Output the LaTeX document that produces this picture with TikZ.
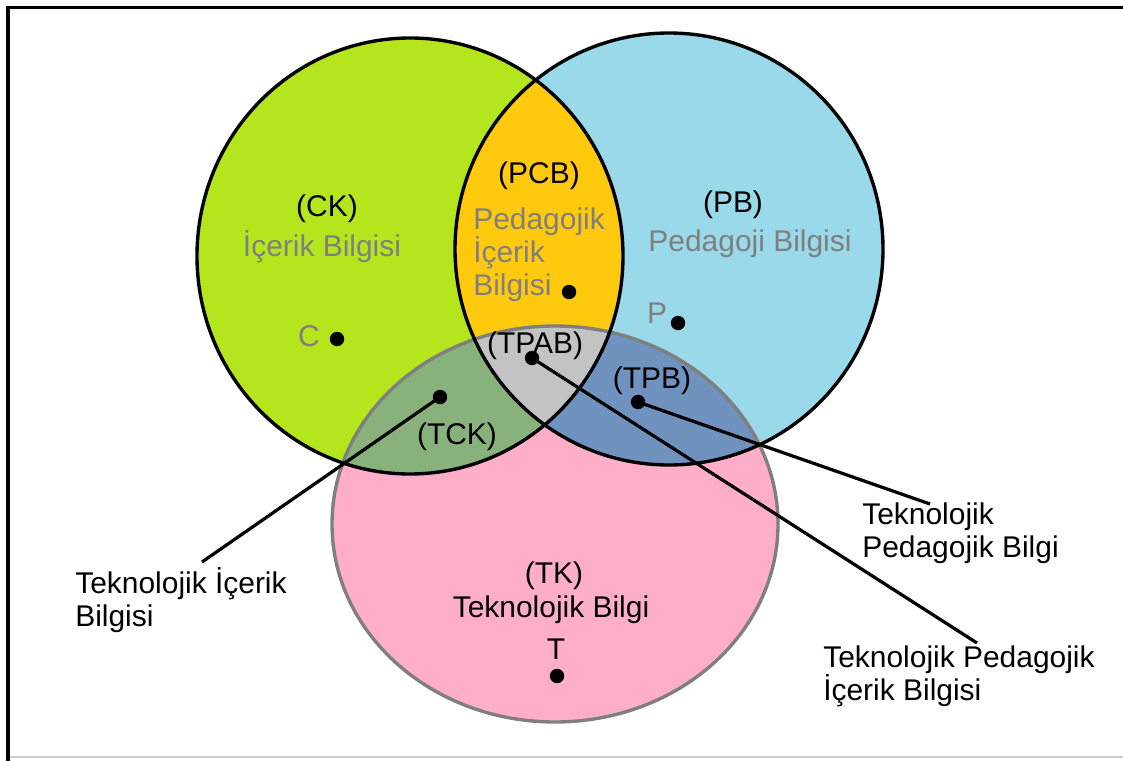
\documentclass[tikz,border=0pt]{standalone}
\usepackage{fontspec}
\setmainfont{Liberation Sans}
\definecolor{limeCK}{HTML}{B5E61D}
\definecolor{cyanPB}{HTML}{99D9EA}
\definecolor{roseTK}{HTML}{FFAEC9}
\definecolor{goldPCB}{HTML}{FFC90E}
\definecolor{mossTCK}{HTML}{88B17B}
\definecolor{steelTPB}{HTML}{7092BE}
\definecolor{greyTPAB}{HTML}{C3C3C3}
\definecolor{soluk}{HTML}{7F7F7F}

\begin{document}
\begin{tikzpicture}[x=0.025cm,y=-0.025cm,
  every node/.style={inner sep=0pt,font=\fontsize{21.3}{23.3}\selectfont},
  kod/.style={text=black,anchor=base},
  ad/.style={text=soluk,anchor=base},
  aciklama/.style={text=black,anchor=base west,align=left},
  nokta/.style={circle,fill=black,minimum size=0.36cm},
  ok/.style={line width=2.3pt}]
  \useasboundingbox (0,0) rectangle (1123,761);
  \draw[line width=2.4pt] (8,761) -- (8,7.5) -- (1123,7.5);
  \draw[gray!40,line width=0.8pt] (10,757) -- (1123,757);
  % the three sets
  \fill[limeCK] (410,256) ellipse (213 and 218);
  \fill[cyanPB] (669,249) ellipse (214 and 216);
  \fill[roseTK] (555,524) ellipse (223 and 198);
  \begin{scope}
    \clip (410,256) ellipse (213 and 218);
    \fill[goldPCB] (669,249) ellipse (214 and 216);
    \fill[mossTCK] (555,524) ellipse (223 and 198);
  \end{scope}
  \begin{scope}
    \clip (669,249) ellipse (214 and 216);
    \fill[steelTPB] (555,524) ellipse (223 and 198);
    \clip (410,256) ellipse (213 and 218);
    \fill[greyTPAB] (555,524) ellipse (223 and 198);
  \end{scope}
  \draw[soluk,line width=2.4pt] (555,524) ellipse (223 and 198);
  \draw[line width=2.4pt] (410,256) ellipse (213 and 218);
  \draw[line width=2.4pt] (669,249) ellipse (214 and 216);
  % labels inside
  \node[kod] (ck) at (327,217) {(CK)};
  \node[ad] (ckad) at (322,257) {İçerik Bilgisi};
  \node[ad] (charf) at (309,346) {C};
  \node[kod] (pb) at (733,213) {(PB)};
  \node[ad] (pbad) at (750,252) {Pedagoji Bilgisi};
  \node[ad] (pharf) at (657,323) {P};
  \node[kod] (pcb) at (539,184) {(PCB)};
  \node[ad,anchor=base west,align=left] (pcbad) at (473,295) {Pedagojik\\İçerik\\Bilgisi};
  \node[kod] (tk) at (554,583) {(TK)};
  \node[kod] (tkad) at (551,617) {Teknolojik Bilgi};
  \node[kod] (tharf) at (556,659) {T};
  \node[kod] (tpab) at (535,353) {(TPAB)};
  \node[kod] (tpb) at (652,388) {(TPB)};
  \node[kod] (tck) at (457,444) {(TCK)};
  % dots
  \node[nokta] (cnokta) at (337,339) {};
  \node[nokta] (pnokta) at (678,323) {};
  \node[nokta] (tnokta) at (557,676) {};
  \node[nokta] (pcbnokta) at (569,292) {};
  \node[nokta] (tcknokta) at (440,397) {};
  \node[nokta] (tpbnokta) at (638,402) {};
  \node[nokta] (tpabnokta) at (532,358) {};
  % outer labels and leaders
  \node[aciklama] (tckaciklama) at (75,626) {Teknolojik İçerik\\Bilgisi};
  \node[aciklama] (tpbaciklama) at (862,557) {Teknolojik\\Pedagojik Bilgi};
  \node[aciklama] (tpabaciklama) at (823,700) {Teknolojik Pedagojik\\İçerik Bilgisi};
  \coordinate (tckuc) at (202,562);
  \coordinate (tpbuc) at (930,504);
  \coordinate (tpabuc) at (977,643);
  \draw[ok] (tcknokta.center) -- (tckuc);
  \draw[ok] (tpbnokta.center) -- (tpbuc);
  \draw[ok] (tpabnokta.center) -- (tpabuc);
\end{tikzpicture}
\end{document}
